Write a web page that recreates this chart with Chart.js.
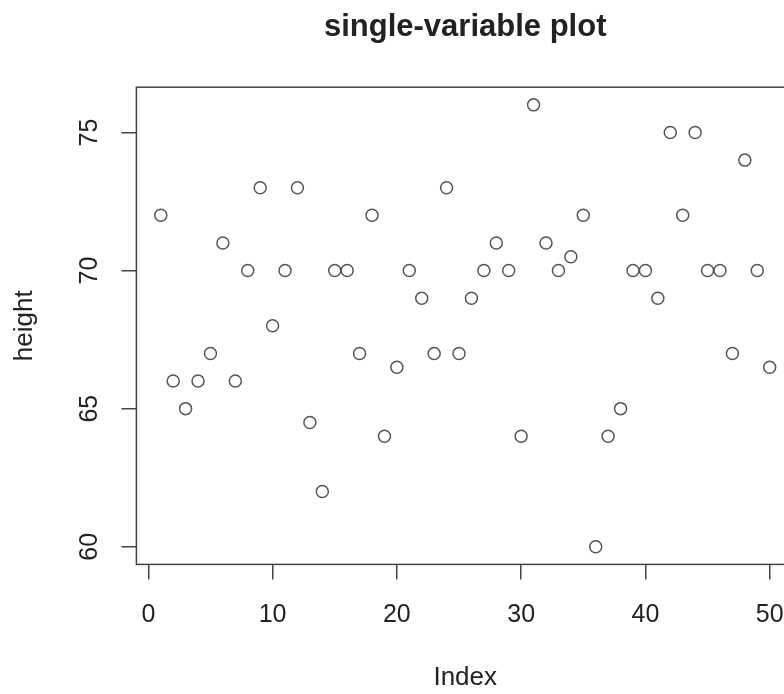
<!DOCTYPE html>
<html lang="en">
<head>
    <meta charset="UTF-8">
    <title>single-variable plot</title>
    <script src="https://cdn.jsdelivr.net/npm/chart.js"></script>
    <style>
        body { margin: 0; background: #fff; }
        #frame { width: 784px; height: 694px; overflow: hidden; }
        #wrap { width: 805px; height: 694px; position: relative; }
    </style>
</head>
<body>
    <div id="frame">
        <div id="wrap"><canvas id="plot"></canvas></div>
    </div>
    <script>
        // observation number (R's "Index") and the measured height
        const index = [1, 2, 3, 4, 5, 6, 7, 8, 9, 10,
            11, 12, 13, 14, 15, 16, 17, 18, 19, 20,
            21, 22, 23, 24, 25, 26, 27, 28, 29, 30,
            31, 32, 33, 34, 35, 36, 37, 38, 39, 40,
            41, 42, 43, 44, 45, 46, 47, 48, 49, 50];
        const height = [72, 66, 65, 66, 67, 71, 66, 70, 73, 68,
            70, 73, 64.5, 62, 70, 70, 67, 72, 64, 66.5,
            70, 69, 67, 73, 67, 69, 70, 71, 70, 64,
            76, 71, 70, 70.5, 72, 60, 64, 65, 70, 70,
            69, 75, 72, 75, 70, 70, 67, 74, 70, 66.5];
        const xTicks = [0, 10, 20, 30, 40, 50];
        const yTicks = [60, 65, 70, 75];

        const fontFamily = '"Liberation Sans", Arial, Helvetica, sans-serif';
        const ink = '#222';
        const lineColor = '#444';

        // R draws a full box around the plot region
        const boxPlugin = {
            id: 'box',
            afterDraw(chart) {
                const { ctx, chartArea: a } = chart;
                ctx.save();
                ctx.strokeStyle = lineColor;
                ctx.lineWidth = 1.5;
                ctx.strokeRect(a.left, a.top, a.right - a.left, a.bottom - a.top);
                ctx.restore();
            }
        };

        const points = index.map((v, i) => ({ x: v, y: height[i] }));

        new Chart(document.getElementById('plot'), {
            type: 'scatter',
            data: {
                datasets: [{
                    data: points,
                    pointStyle: 'circle',
                    pointRadius: 6,
                    pointHoverRadius: 6,
                    pointBorderWidth: 1.5,
                    borderColor: '#555',
                    backgroundColor: 'rgba(0,0,0,0)'
                }]
            },
            options: {
                responsive: true,
                maintainAspectRatio: false,
                animation: false,
                layout: { padding: { left: 0, right: 1, top: 0, bottom: 0 } },
                plugins: {
                    legend: { display: false },
                    tooltip: { enabled: false },
                    title: {
                        display: true,
                        text: 'single-variable plot',
                        fullSize: false,
                        color: ink,
                        font: { family: fontFamily, size: 31, weight: 'bold' },
                        padding: { top: 9, bottom: 41 }
                    }
                },
                scales: {
                    x: {
                        type: 'linear',
                        min: -0.96,
                        max: 51.96,
                        afterBuildTicks: (s) => { s.ticks = xTicks.map(v => ({ value: v })); },
                        afterFit: (s) => { s.height = 129.6; },
                        border: { display: false },
                        grid: { drawOnChartArea: false, drawTicks: true, tickLength: 15, color: lineColor, lineWidth: 1.5 },
                        ticks: { color: ink, padding: 21, font: { family: fontFamily, size: 25 }, maxRotation: 0 },
                        title: {
                            display: true, text: 'Index', color: ink,
                            font: { family: fontFamily, size: 26 },
                            padding: { top: 0, bottom: 1 }
                        }
                    },
                    y: {
                        type: 'linear',
                        min: 59.36,
                        max: 76.64,
                        afterBuildTicks: (s) => { s.ticks = yTicks.map(v => ({ value: v })); },
                        afterFit: (s) => { s.width = 136.4; },
                        border: { display: false },
                        grid: { drawOnChartArea: false, drawTicks: true, tickLength: 15, color: lineColor, lineWidth: 1.5 },
                        ticks: {
                            color: ink, padding: 17, minRotation: 90, maxRotation: 90,
                            crossAlign: 'center',
                            font: { family: fontFamily, size: 25 }
                        },
                        title: {
                            display: true, text: 'height', color: ink,
                            font: { family: fontFamily, size: 26 },
                            padding: { top: 9, bottom: 0 }
                        }
                    }
                }
            },
            plugins: [boxPlugin]
        });
    </script>
</body>
</html>
